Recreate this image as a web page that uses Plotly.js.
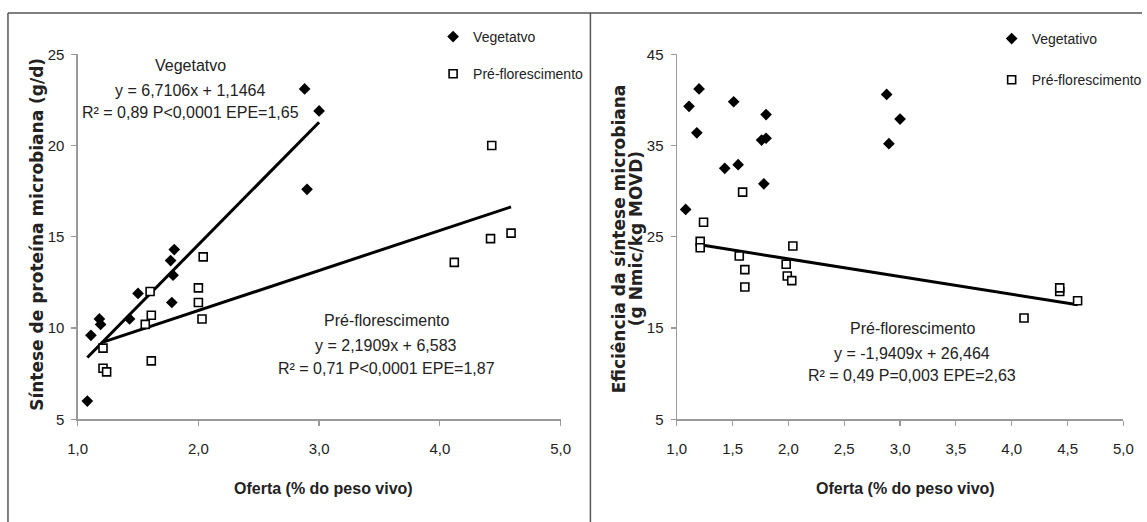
<!DOCTYPE html>
<html>
<head>
<meta charset="utf-8">
<script src="https://cdn.plot.ly/plotly-3.0.1.min.js"></script>
<style>html,body{margin:0;padding:0;background:#fff;}#chart{width:1147px;height:522px;}</style>
</head>
<body>
<div id="chart"></div>
<script>
// ---- data ----
const vegXLeft = [1.08, 1.11, 1.18, 1.19, 1.43, 1.50, 1.77, 1.80, 1.79, 1.78, 2.88, 3.00, 2.90];
const vegYLeft = [6.0, 9.6, 10.5, 10.2, 10.5, 11.9, 13.7, 14.3, 12.9, 11.4, 23.1, 21.9, 17.6];
const preXLeft = [1.21, 1.21, 1.24, 1.56, 1.60, 1.61, 1.61, 2.00, 2.00, 2.03, 2.04, 4.12, 4.42, 4.43, 4.59];
const preYLeft = [8.9, 7.8, 7.6, 10.2, 12.0, 10.7, 8.2, 12.2, 11.4, 10.5, 13.9, 13.6, 14.9, 20.0, 15.2];

const vegXRight = [1.08, 1.11, 1.18, 1.20, 1.43, 1.51, 1.55, 1.78, 1.76, 1.80, 1.80, 2.88, 2.90, 3.00];
const vegYRight = [28.0, 39.3, 36.4, 41.2, 32.5, 39.8, 32.9, 30.8, 35.6, 38.4, 35.8, 40.6, 35.2, 37.9];
const preXRight = [1.21, 1.21, 1.24, 1.56, 1.59, 1.61, 1.61, 1.98, 1.99, 2.03, 2.04, 4.11, 4.43, 4.43, 4.59];
const preYRight = [24.5, 23.8, 26.6, 22.9, 29.9, 21.4, 19.5, 22.0, 20.7, 20.2, 24.0, 16.1, 19.0, 19.4, 18.0];

// regression line end points (as drawn)
const trendVegLeftX = [1.08, 3.00];
const trendVegLeftY = [8.39, 21.28];
const trendPreLeftX = [1.21, 4.59];
const trendPreLeftY = [9.23, 16.64];
const trendPreRightX = [1.21, 4.59];
const trendPreRightY = [24.12, 17.55];

const legendLeft = ["Vegetatvo", "Pré-florescimento"];
const legendRight = ["Vegetativo", "Pré-florescimento"];
const eqLeftVeg = ["Vegetatvo", "y = 6,7106x + 1,1464", "R² = 0,89 P&lt;0,0001 EPE=1,65"];
const eqLeftPre = ["Pré-florescimento", "y = 2,1909x + 6,583", "R² = 0,71 P&lt;0,0001 EPE=1,87"];
const eqRightPre = ["Pré-florescimento", "y = -1,9409x + 26,464", "R² = 0,49 P=0,003 EPE=2,63"];
const xTitle = "Oferta (% do peso vivo)";
const yTitleLeft = "Síntese de proteína microbiana (g/d)";
const yTitleRight = ["Eficiência da síntese microbiana", "(g Nmic/kg MOVD)"];

// ---- styling ----
const W = 1147, H = 522;
const SANS = "'Liberation Sans', Arial, sans-serif";
const WIDE = "'DejaVu Sans', Verdana, sans-serif";
const px = v => v / W;
const py = v => 1 - v / H;

const diamond = {symbol: 'diamond', size: 9, color: '#000', line: {width: 0}};
const square = {symbol: 'square', size: 8, color: '#fff', line: {color: '#000', width: 1.6}};
const trendLine = {color: '#000', width: 3};

const traces = [
  {x: trendVegLeftX, y: trendVegLeftY, xaxis: 'x', yaxis: 'y', mode: 'lines', line: trendLine, showlegend: false, hoverinfo: 'skip'},
  {x: trendPreLeftX, y: trendPreLeftY, xaxis: 'x', yaxis: 'y', mode: 'lines', line: trendLine, showlegend: false, hoverinfo: 'skip'},
  {x: trendPreRightX, y: trendPreRightY, xaxis: 'x2', yaxis: 'y2', mode: 'lines', line: trendLine, showlegend: false, hoverinfo: 'skip'},
  {x: vegXLeft, y: vegYLeft, xaxis: 'x', yaxis: 'y', mode: 'markers', marker: diamond, name: legendLeft[0], legend: 'legend', legendgroup: 'a'},
  {x: preXLeft, y: preYLeft, xaxis: 'x', yaxis: 'y', mode: 'markers', marker: square, name: legendLeft[1], legend: 'legend', legendgroup: 'b'},
  {x: vegXRight, y: vegYRight, xaxis: 'x2', yaxis: 'y2', mode: 'markers', marker: diamond, name: legendRight[0], legend: 'legend2', legendgroup: 'c'},
  {x: preXRight, y: preYRight, xaxis: 'x2', yaxis: 'y2', mode: 'markers', marker: square, name: legendRight[1], legend: 'legend2', legendgroup: 'd'}
];

const axisCommon = {
  showline: true, linecolor: '#9a9a9a', linewidth: 1.2,
  ticks: 'outside', ticklen: 5, tickcolor: '#9a9a9a', tickwidth: 1.2,
  showgrid: false, zeroline: false, fixedrange: true,
  tickfont: {family: SANS, size: 15, color: '#222'}
};
const yDom = [py(419.3), py(54.3)];

function annLines(lines, cx, ys, size) {
  return lines.map((t, i) => ({
    text: t, xref: 'paper', yref: 'paper', x: px(cx), y: py(ys[i]),
    xanchor: 'center', yanchor: 'middle', showarrow: false,
    font: {family: SANS, size: size, color: '#222'}
  }));
}

function vTitle(t, cx, cy, size) {
  return {text: t, xref: 'paper', yref: 'paper', x: px(cx), y: py(cy), xanchor: 'center', yanchor: 'middle', showarrow: false,
          textangle: -90, font: {family: WIDE, size: size, color: '#222', weight: 'bold'}};
}

const annotations = [].concat(
  annLines(eqLeftVeg, 191, [66, 90, 112], 16),
  annLines(eqLeftPre, 388, [320, 345, 368], 16),
  annLines(eqRightPre, 916, [328, 353, 375], 16),
  [
    {text: xTitle, xref: 'paper', yref: 'paper', x: px(325), y: py(488), xanchor: 'center', yanchor: 'middle', showarrow: false,
     font: {family: SANS, size: 16, color: '#222', weight: 'bold'}},
    {text: xTitle, xref: 'paper', yref: 'paper', x: px(909), y: py(488), xanchor: 'center', yanchor: 'middle', showarrow: false,
     font: {family: SANS, size: 16, color: '#222', weight: 'bold'}},
    vTitle(yTitleLeft, 37, 234, 17),
    vTitle(yTitleRight[0], 622, 239, 17),
    vTitle(yTitleRight[1], 639, 239, 17)
  ]
);

const frame = {type: 'line', xref: 'paper', yref: 'paper', line: {color: '#555', width: 1.5}};
const shapes = [
  Object.assign({}, frame, {x0: px(8), x1: 1, y0: py(13), y1: py(13)}),
  Object.assign({}, frame, {x0: px(8), x1: px(8), y0: py(13), y1: 0}),
  Object.assign({}, frame, {x0: px(593), x1: px(593), y0: py(13), y1: 0})
];

const legendCommon = {
  xanchor: 'left', yanchor: 'top', bgcolor: 'rgba(0,0,0,0)', borderwidth: 0,
  font: {family: SANS, size: 14, color: '#222'},
  traceorder: 'grouped', tracegroupgap: 16, itemwidth: 30
};

const layout = {
  width: W, height: H,
  margin: {l: 0, r: 0, t: 0, b: 0},
  paper_bgcolor: '#fff', plot_bgcolor: '#fff',
  separators: ',.',
  xaxis: Object.assign({}, axisCommon, {domain: [px(78), px(563)], range: [1, 5], tick0: 1, dtick: 1, tickformat: '.1f', anchor: 'y', ticklabelstandoff: 10}),
  yaxis: Object.assign({}, axisCommon, {domain: yDom, range: [5, 25], tick0: 5, dtick: 5, anchor: 'x', ticklabelstandoff: 4}),
  xaxis2: Object.assign({}, axisCommon, {domain: [px(679.7), px(1128.3)], range: [1, 5], tick0: 1, dtick: 0.5, tickformat: '.1f', anchor: 'y2', ticklabelstandoff: 10}),
  yaxis2: Object.assign({}, axisCommon, {domain: yDom, range: [5, 45], tick0: 5, dtick: 10, anchor: 'x2', ticklabelstandoff: 4}),
  legend: Object.assign({}, legendCommon, {x: px(435), y: py(21)}),
  legend2: Object.assign({}, legendCommon, {x: px(996), y: py(23), tracegroupgap: 20}),
  annotations: annotations,
  shapes: shapes
};

Plotly.newPlot('chart', traces, layout, {displayModeBar: false, staticPlot: true});
</script>
</body>
</html>
